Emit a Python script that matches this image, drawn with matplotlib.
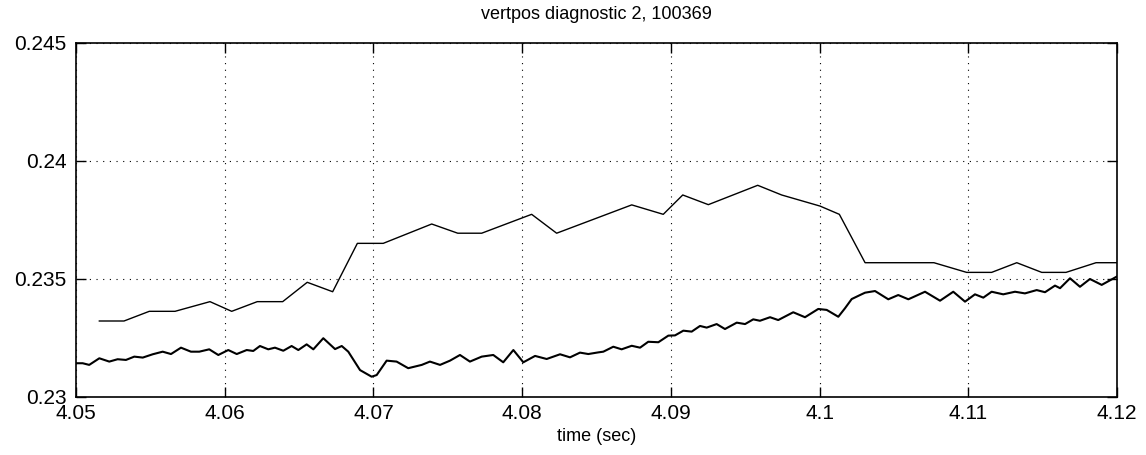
import numpy as np
import matplotlib.pyplot as plt

plt.rcParams['font.family'] = ['Liberation Sans', 'DejaVu Sans']

# upper trace (coarse samples)
t_upper = [4.05157, 4.05323, 4.05493, 4.05666, 4.05901, 4.06047, 4.06219, 4.06390,
           4.06555, 4.06726, 4.06892, 4.07066, 4.07392, 4.07567, 4.07728, 4.08064,
           4.08232, 4.08737, 4.08949, 4.09080, 4.09252, 4.09584, 4.09745, 4.10003,
           4.10133, 4.10306, 4.10769, 4.10989, 4.11157, 4.11326, 4.11494, 4.11657,
           4.11859, 4.12000]
z_upper = [0.23322, 0.23322, 0.23363, 0.23363, 0.23404, 0.23363, 0.23404, 0.23404,
           0.23486, 0.23446, 0.23651, 0.23651, 0.23733, 0.23694, 0.23694, 0.23774,
           0.23694, 0.23814, 0.23774, 0.23856, 0.23815, 0.23897, 0.23856, 0.23809,
           0.23774, 0.23569, 0.23569, 0.23528, 0.23528, 0.23569, 0.23528, 0.23528,
           0.23569, 0.23569]

# lower trace (oscillating signal)
t_lower = [4.05000, 4.05045, 4.05089, 4.05157, 4.05224, 4.05280, 4.05336, 4.05392,
           4.05449, 4.05516, 4.05583, 4.05639, 4.05706, 4.05773, 4.05829, 4.05896,
           4.05957, 4.06024, 4.06081, 4.06148, 4.06192, 4.06237, 4.06293, 4.06338,
           4.06394, 4.06450, 4.06495, 4.06551, 4.06596, 4.06663, 4.06742, 4.06787,
           4.06831, 4.06910, 4.06988, 4.07022, 4.07089, 4.07156, 4.07234, 4.07325,
           4.07380, 4.07448, 4.07515, 4.07582, 4.07649, 4.07728, 4.07806, 4.07873,
           4.07941, 4.08008, 4.08087, 4.08165, 4.08255, 4.08322, 4.08389, 4.08445,
           4.08512, 4.08546, 4.08613, 4.08669, 4.08737, 4.08793, 4.08848, 4.08916,
           4.08983, 4.09028, 4.09084, 4.09140, 4.09196, 4.09241, 4.09308, 4.09364,
           4.09443, 4.09499, 4.09554, 4.09599, 4.09667, 4.09722, 4.09823, 4.09902,
           4.09991, 4.10048, 4.10126, 4.10171, 4.10216, 4.10272, 4.10306, 4.10373,
           4.10462, 4.10529, 4.10597, 4.10709, 4.10810, 4.10899, 4.10978, 4.11045,
           4.11101, 4.11157, 4.11235, 4.11314, 4.11381, 4.11460, 4.11516, 4.11583,
           4.11617, 4.11684, 4.11751, 4.11818, 4.11897, 4.11998]
z_lower = [0.23143, 0.23143, 0.23136, 0.23164, 0.23150, 0.23160, 0.23157, 0.23171,
           0.23167, 0.23181, 0.23192, 0.23182, 0.23209, 0.23192, 0.23192, 0.23202,
           0.23178, 0.23199, 0.23182, 0.23199, 0.23195, 0.23216, 0.23202, 0.23209,
           0.23196, 0.23216, 0.23199, 0.23223, 0.23202, 0.23249, 0.23203, 0.23216,
           0.23192, 0.23114, 0.23086, 0.23093, 0.23154, 0.23150, 0.23122, 0.23136,
           0.23150, 0.23136, 0.23154, 0.23178, 0.23150, 0.23171, 0.23178, 0.23147,
           0.23199, 0.23147, 0.23174, 0.23161, 0.23181, 0.23168, 0.23188, 0.23182,
           0.23189, 0.23192, 0.23213, 0.23202, 0.23217, 0.23209, 0.23234, 0.23232,
           0.23260, 0.23261, 0.23281, 0.23277, 0.23301, 0.23294, 0.23309, 0.23288,
           0.23315, 0.23309, 0.23329, 0.23323, 0.23338, 0.23326, 0.23359, 0.23338,
           0.23373, 0.23369, 0.23340, 0.23376, 0.23415, 0.23432, 0.23442, 0.23449,
           0.23414, 0.23432, 0.23414, 0.23446, 0.23408, 0.23446, 0.23404, 0.23435,
           0.23421, 0.23446, 0.23435, 0.23446, 0.23439, 0.23453, 0.23444, 0.23472,
           0.23461, 0.23503, 0.23467, 0.23500, 0.23475, 0.23510]

x_ticks = [4.05, 4.06, 4.07, 4.08, 4.09, 4.10, 4.11, 4.12]
x_labels = ['4.05', '4.06', '4.07', '4.08', '4.09', '4.1', '4.11', '4.12']
y_ticks = [0.23, 0.235, 0.24, 0.245]
y_labels = ['0.23', '0.235', '0.24', '0.245']

fig = plt.figure(figsize=(11.46, 4.55), dpi=100)
ax = fig.add_axes([0.0663, 0.1275, 0.9084, 0.778])

ax.plot(t_upper, z_upper, color='black', linewidth=1.0)
ax.plot(t_lower, z_lower, color='black', linewidth=1.5, solid_joinstyle='round')

ax.set_xlim(4.05, 4.12)
ax.set_ylim(0.23, 0.245)
ax.set_xticks(x_ticks)
ax.set_xticklabels(x_labels)
ax.set_yticks(y_ticks)
ax.set_yticklabels(y_labels)

ax.grid(True, color='black', linestyle=(0, (1, 5)), linewidth=0.8)
ax.tick_params(direction='in', length=7, width=1, labelsize=15,
               top=True, right=True)
ax.tick_params(axis='x', pad=5)
ax.tick_params(axis='y', pad=7)
for s in ax.spines.values():
    s.set_linewidth(1.2)

ax.set_title('vertpos diagnostic 2, 100369', fontsize=13, pad=17)
ax.set_xlabel('time (sec)', fontsize=13, labelpad=4)

fig.savefig('out.png', dpi=100)
